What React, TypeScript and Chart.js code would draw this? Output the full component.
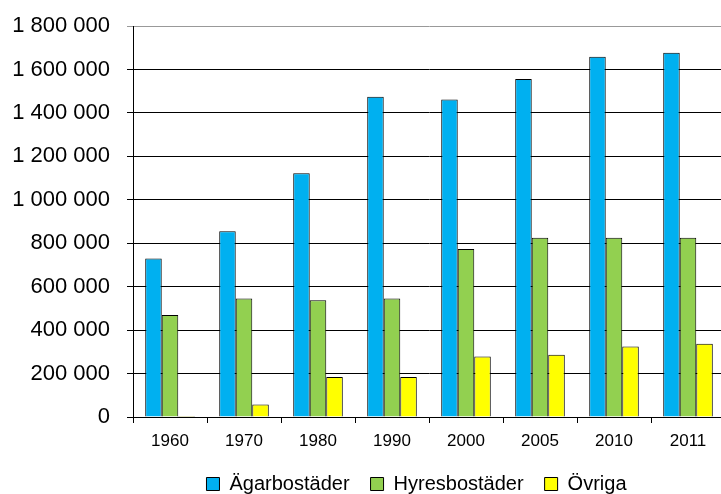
import React, { useEffect, useRef } from "react";
import { Chart, registerables } from "chart.js";

Chart.register(...registerables);

const years = ["1960", "1970", "1980", "1990", "2000", "2005", "2010", "2011"];
const agarbostader = [730000, 855000, 1122000, 1474000, 1462000, 1556000, 1658000, 1677000];
const hyresbostader = [470000, 546000, 538000, 546000, 773000, 825000, 825000, 825000];
const ovriga = [5000, 58000, 184000, 184000, 278000, 287000, 324000, 337000];
const seriesNames = ["Ägarbostäder", "Hyresbostäder", "Övriga"];

const fmt = (v: number) => String(v).replace(/\B(?=(\d{3})+(?!\d))/g, " ");

const legendShift = {
  id: "legendShift",
  afterLayout(chart: any) {
    if (chart.legend) {
      chart.legend.left += 54;
      chart.legend.right += 54;
    }
  },
};

export default function App() {
  const ref = useRef<HTMLCanvasElement>(null);
  useEffect(() => {
    if (!ref.current) return;
    const font = "'Liberation Sans', Arial, sans-serif";
    const chart = new Chart(ref.current, {
      type: "bar",
      data: {
        labels: years,
        datasets: [
          { label: seriesNames[0], data: agarbostader, backgroundColor: "#00B0F0", borderColor: "#000", borderWidth: 1 },
          { label: seriesNames[1], data: hyresbostader, backgroundColor: "#92D050", borderColor: "#000", borderWidth: 1 },
          { label: seriesNames[2], data: ovriga, backgroundColor: "#FFFF00", borderColor: "#000", borderWidth: 1 },
        ],
      },
      plugins: [legendShift],
      options: {
        animation: false,
        responsive: false,
        devicePixelRatio: 1,
        layout: { padding: { left: 0, right: 0, top: 26, bottom: 0 } },
        datasets: { bar: { categoryPercentage: 0.67, barPercentage: 1 } },
        plugins: {
          tooltip: { enabled: false },
          legend: {
            position: "bottom",
            labels: {
              color: "#000",
              font: { family: font, size: 20 },
              boxWidth: 13,
              boxHeight: 13,
              padding: 21,
            },
          },
        },
        scales: {
          x: {
            afterFit: (s: any) => { s.height = 36; s.paddingLeft = 0; s.paddingRight = 0; },
            grid: { drawOnChartArea: false, drawTicks: true, tickLength: 6, color: "#000", offset: true },
            border: { display: true, color: "#000", width: 1 },
            ticks: { color: "#000", font: { family: font, size: 17 }, padding: 8 },
          },
          y: {
            min: 0,
            max: 1800000,
            afterFit: (s: any) => { s.width = 133; s.paddingTop = 0; s.paddingBottom = 0; },
            grid: {
              color: (c: any) => (c.tick && c.tick.value === 1800000 ? "#999" : "#000"),
              tickLength: 6,
              lineWidth: 1,
            },
            border: { display: true, color: "#000", width: 1 },
            ticks: {
              stepSize: 200000,
              color: "#000",
              font: { family: font, size: 22 },
              padding: 17,
              callback: (v: any) => fmt(Number(v)),
            },
          },
        },
      },
    });
    return () => chart.destroy();
  }, []);
  return (
    <div style={{ position: "fixed", left: 0, top: 0, width: 721, height: 494, overflow: "hidden", background: "#fff" }}>
      <canvas ref={ref} width={725} height={504} style={{ width: 725, height: 504 }} />
    </div>
  );
}
